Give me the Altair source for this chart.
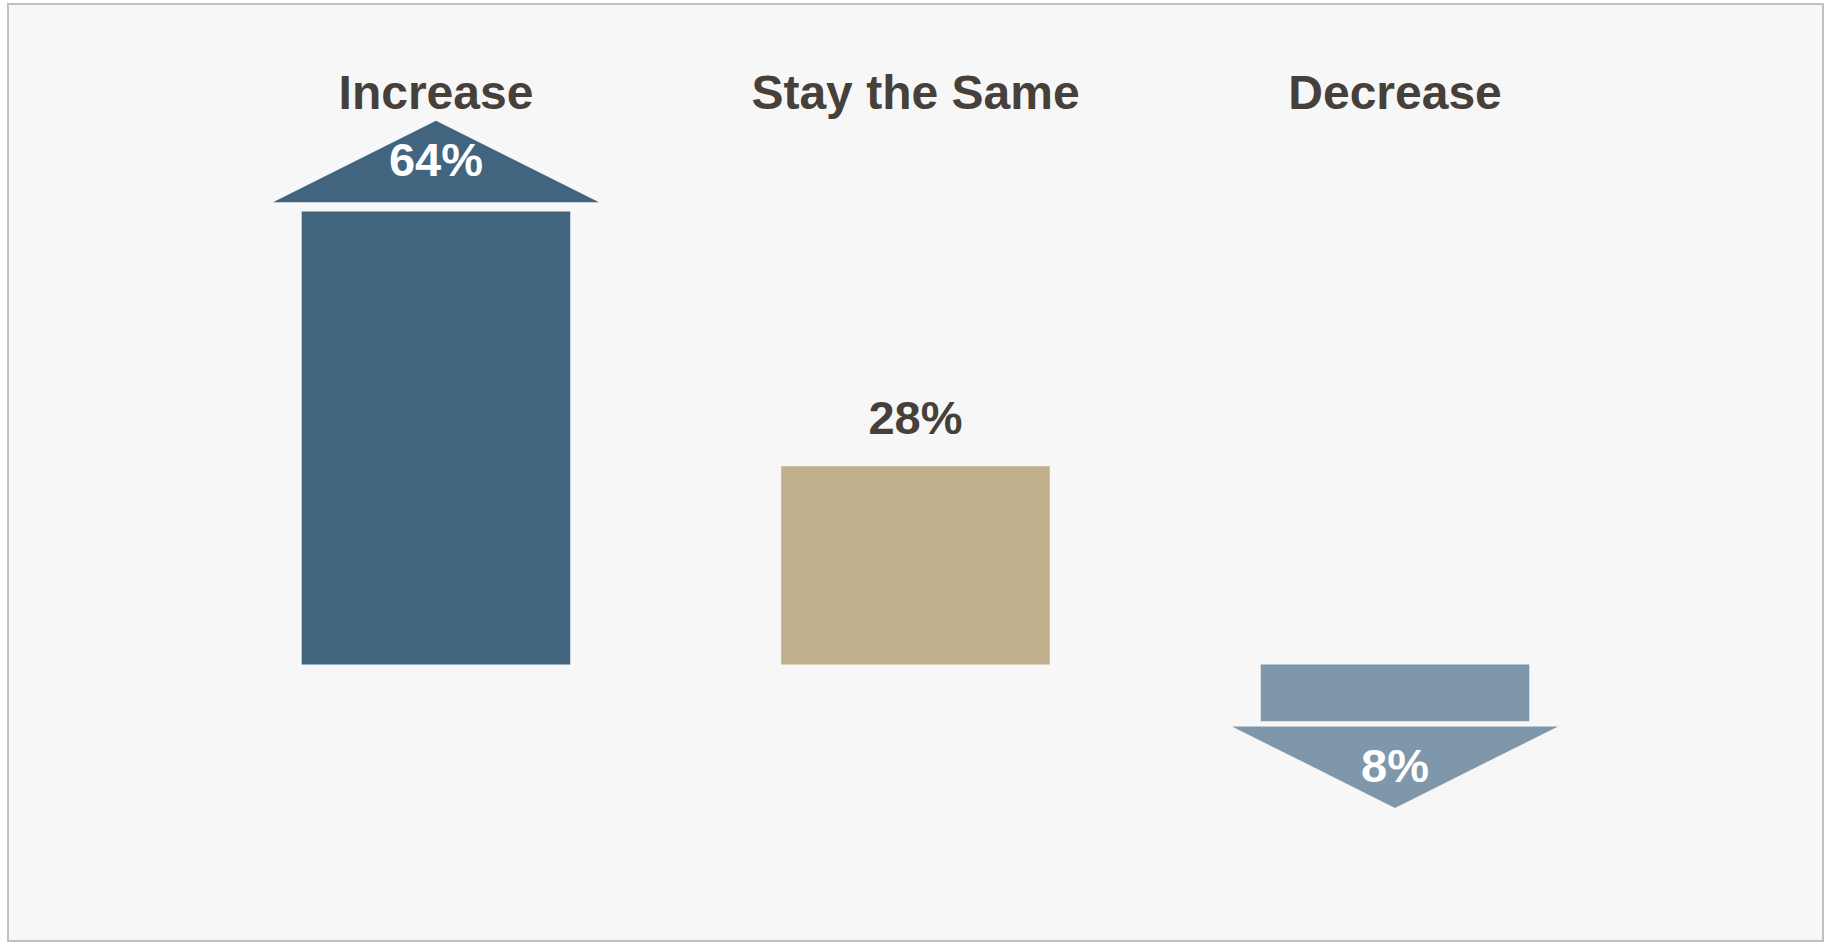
import altair as alt
import pandas as pd

categories = ["Increase", "Stay the Same", "Decrease"]
values = [64, 28, -8]
labels = ["64%", "28%", "8%"]
colors = ["#41657f", "#bfaf8d", "#7f97aa"]

df = pd.DataFrame({"category": categories, "value": values, "label": labels})

FONT = "Liberation Sans, Arial, sans-serif"
TEXT_COLOR = "#463f3a"
UP = "M -1 0.25 L 0 -0.25 L 1 0.25 Z"
DOWN = "M -1 -0.25 L 0 0.25 L 1 -0.25 Z"

xscale = alt.Scale(domain=categories, paddingInner=0.44, paddingOuter=0.6125, align=0.5)
yscale = alt.Scale(domain=[-39.05, 93.29], nice=False, zero=False)
cscale = alt.Scale(domain=categories, range=colors)

base = alt.Chart(df).encode(
    x=alt.X(
        "category:N",
        sort=categories,
        scale=xscale,
        axis=alt.Axis(
            orient="top",
            title=None,
            ticks=False,
            domain=False,
            grid=False,
            labelAngle=0,
            labelLimit=0,
            labelOverlap=False,
            labelFont=FONT,
            labelFontSize=48,
            labelFontWeight="bold",
            labelColor=TEXT_COLOR,
            labelBaseline="alphabetic",
            labelPadding=-104,
        ),
    ),
    y=alt.Y("value:Q", scale=yscale, axis=None),
    color=alt.Color("category:N", scale=cscale, legend=None),
)

bars = base.mark_bar()

arrow_up = base.transform_filter(alt.datum.category == "Increase").mark_point(
    shape=UP, size=326 * 326, filled=True, opacity=1, strokeWidth=0, yOffset=-50
)
arrow_down = base.transform_filter(alt.datum.category == "Decrease").mark_point(
    shape=DOWN, size=326 * 326, filled=True, opacity=1, strokeWidth=0, yOffset=46
)

text_kw = dict(font=FONT, fontSize=47, fontWeight="bold", baseline="alphabetic", align="center")

label_up = base.transform_filter(alt.datum.category == "Increase").mark_text(
    dy=-35, **text_kw
).encode(text="label:N", color=alt.value("white"))
label_mid = base.transform_filter(alt.datum.category == "Stay the Same").mark_text(
    dy=-32, **text_kw
).encode(text="label:N", color=alt.value(TEXT_COLOR))
label_down = base.transform_filter(alt.datum.category == "Decrease").mark_text(
    dy=61, **text_kw
).encode(text="label:N", color=alt.value("white"))

chart = (
    alt.layer(bars, arrow_up, arrow_down, label_up, label_mid, label_down)
    .properties(
        width=1815,
        height=937,
        background="white",
        padding={"left": 8, "top": 4, "right": 6, "bottom": 1},
        autosize=alt.AutoSizeParams(type="none"),
    )
    .configure_view(fill="#f7f7f7", stroke="#c0c0c0", strokeWidth=2)
)

chart.save("out.html", embed_options={"renderer": "svg", "actions": False})
